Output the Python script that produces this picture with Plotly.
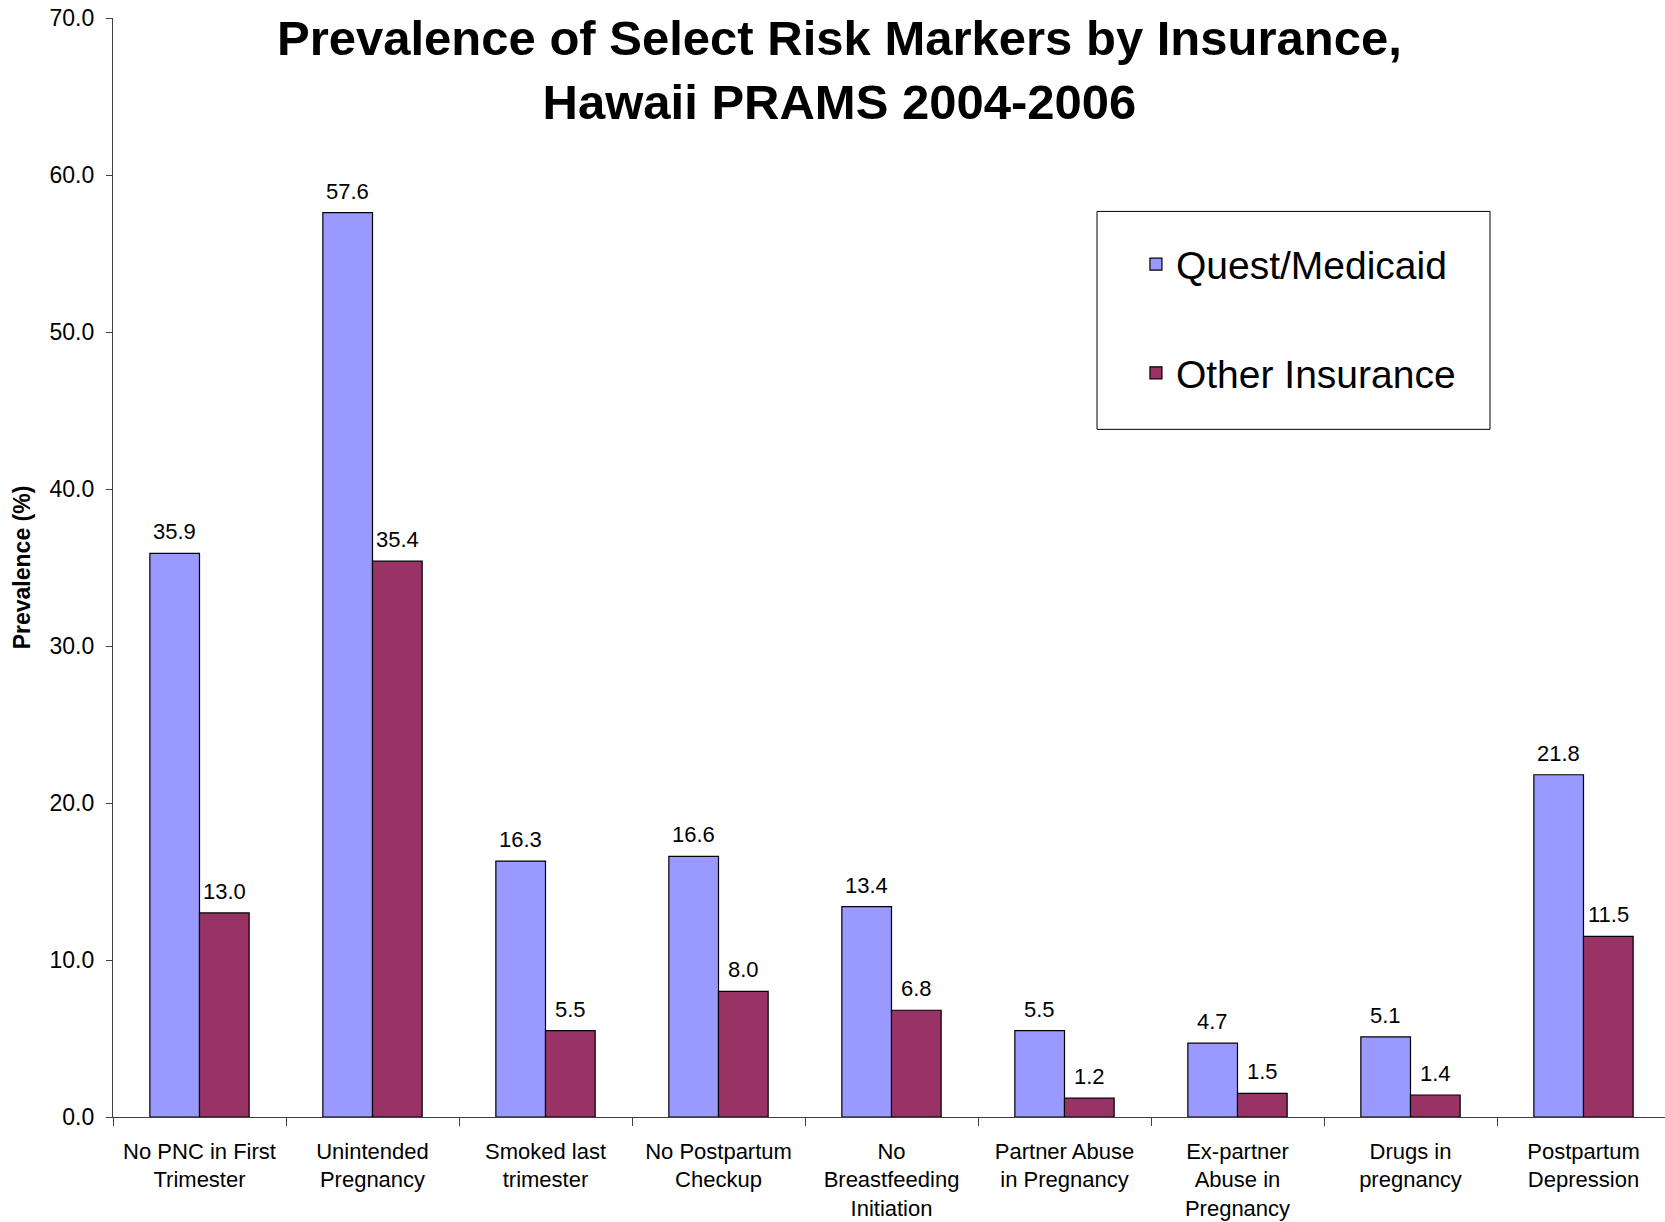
import plotly.graph_objects as go

categories = [
    "No PNC in First<br>Trimester",
    "Unintended<br>Pregnancy",
    "Smoked last<br>trimester",
    "No Postpartum<br>Checkup",
    "No<br>Breastfeeding<br>Initiation",
    "Partner Abuse<br>in Pregnancy",
    "Ex-partner<br>Abuse in<br>Pregnancy",
    "Drugs in<br>pregnancy",
    "Postpartum<br>Depression",
]
quest_medicaid = [35.9, 57.6, 16.3, 16.6, 13.4, 5.5, 4.7, 5.1, 21.8]
other_insurance = [13.0, 35.4, 5.5, 8.0, 6.8, 1.2, 1.5, 1.4, 11.5]
y_ticks = [0, 10, 20, 30, 40, 50, 60, 70]

FONT = "Liberation Sans, Arial, sans-serif"
W, H = 1670, 1222
ML, MR, MT, MB = 113, 0, 18, 105
BARGAP = 0.426

fig = go.Figure()
fig.add_trace(go.Bar(
    x=categories, y=quest_medicaid, name="Quest/Medicaid",
    marker=dict(color="#9999FF", line=dict(color="black", width=1.2)),
    legendgroup="a",
))
fig.add_trace(go.Bar(
    x=categories, y=other_insurance, name="Other Insurance",
    marker=dict(color="#993366", line=dict(color="black", width=1.2)),
    legendgroup="b",
))

# value labels placed through the axes (bar centre offset derived from layout)
cat_px = (W - ML - MR) / len(categories)
half_offset = cat_px * (1 - BARGAP) / 4
annotations = []
for series, sign in ((quest_medicaid, -1), (other_insurance, 1)):
    for cat, val in zip(categories, series):
        annotations.append(dict(
            x=cat, y=val, xref="x", yref="y", text=f"{val:.1f}",
            showarrow=False, xanchor="center", yanchor="bottom",
            xshift=sign * half_offset, yshift=7,
            font=dict(size=22, family=FONT, color="black"),
        ))
annotations.append(dict(
    text="<b>Prevalence of Select Risk Markers by Insurance,<br>Hawaii PRAMS 2004-2006</b>",
    xref="paper", yref="paper", x=0.4663, y=1.0, xanchor="center", yanchor="top",
    showarrow=False, font=dict(size=49, family=FONT, color="black"),
    yshift=9,
))

fig.update_layout(
    width=W, height=H,
    margin=dict(l=ML, r=MR, t=MT, b=MB, autoexpand=False),
    paper_bgcolor="white", plot_bgcolor="white",
    font=dict(family=FONT, color="black"),
    barmode="group", bargap=BARGAP, bargroupgap=0,
    showlegend=True,
    legend=dict(
        x=0.657, y=0.805, xanchor="left", yanchor="top",
        borderwidth=0, bgcolor="rgba(0,0,0,0)",
        font=dict(size=39, family=FONT),
        tracegroupgap=55, traceorder="grouped",
        itemwidth=30,
    ),
    shapes=[dict(
        type="rect", xref="paper", yref="paper",
        x0=0.632, x1=0.8844, y0=0.6257, y1=0.824,
        line=dict(color="black", width=1), fillcolor="rgba(0,0,0,0)", layer="below",
    )],
    annotations=annotations,
)
fig.update_xaxes(
    showline=True, linecolor="#404040", linewidth=1.2,
    ticks="outside", tickson="boundaries", ticklen=8, tickcolor="#404040",
    tickfont=dict(size=22, family=FONT), showgrid=False,
    ticklabelstandoff=14, automargin=False,
)
fig.update_yaxes(
    range=[0, 70], tickvals=y_ticks, tickformat=".1f",
    showline=True, linecolor="#404040", linewidth=1.2,
    ticks="outside", ticklen=6, tickcolor="#404040",
    tickfont=dict(size=23, family=FONT), showgrid=False, zeroline=False,
    ticklabelstandoff=7, ticklabeloverflow="allow", automargin=False,
    title=dict(text="<b>Prevalence (%)</b>", font=dict(size=23, family=FONT), standoff=12),
)

fig.write_html(
    "out.html",
    config={"displayModeBar": False},
    post_script="document.body.style.margin='0px';",
)
